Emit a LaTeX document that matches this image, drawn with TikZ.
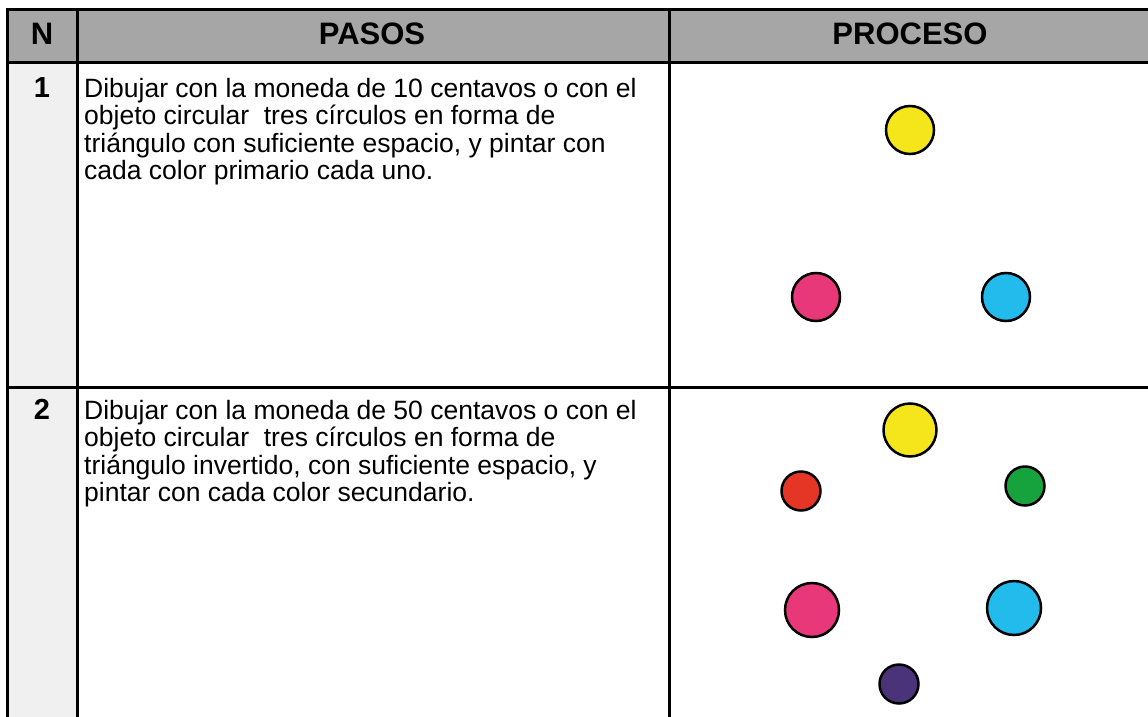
\documentclass[tikz,border=0pt]{standalone}
\usepackage{fontspec}
\setmainfont{Liberation Sans}
\usepackage{tikz}

\definecolor{headgray}{HTML}{A6A6A6}
\definecolor{numgray}{HTML}{F0F0F0}
\definecolor{cyel}{HTML}{F5E61C}
\definecolor{cpink}{HTML}{E8387A}
\definecolor{ccyan}{HTML}{22BBEC}
\definecolor{cred}{HTML}{E53524}
\definecolor{cgreen}{HTML}{16A23D}
\definecolor{cpurple}{HTML}{4B3379}

\tikzset{
  rule/.style={line width=3pt},
  head/.style={font=\fontsize{31}{34}\selectfont\bfseries, inner sep=0pt, anchor=base},
  num/.style={font=\fontsize{29}{32}\selectfont\bfseries, inner sep=0pt, anchor=base},
  pasostxt/.style={font=\fontsize{26.5}{27.5}\selectfont, inner sep=0pt, anchor=base west, align=left},
  dot/.style={circle, draw=black, line width=2.5pt, inner sep=0pt}
}

\begin{document}
\begin{tikzpicture}[x=1pt,y=-1pt]
\useasboundingbox (0,0) rectangle (1148,717);
% fondos
\fill[headgray] (7,10) rectangle (1150,63);
\fill[numgray] (7,63) rectangle (77,717);
% lineas de la tabla
\draw[rule] (7,10) -- (1150,10);
\draw[rule] (7,63) -- (1150,63);
\draw[rule] (7,387) -- (1150,387);
\draw[rule] (7,8.5) -- (7,717);
\draw[rule] (77,10) -- (77,717);
\draw[rule] (669,10) -- (669,717);
% encabezado
\node[head] (hn) at (42,45) {N};
\node[head] (hpasos) at (372,45) {PASOS};
\node[head] (hproceso) at (910,45) {PROCESO};
% fila 1 (base = ultima linea)
\node[num] (n1) at (42,97.5) {1};
\node[pasostxt] (p1) at (84,179.8) {Dibujar con la moneda de 10 centavos o con el\\
objeto circular\ \ tres círculos en forma de\\
triángulo con suficiente espacio, y pintar con\\
cada color primario cada uno.};
\node[dot, fill=cyel, minimum size=48pt] (a1) at (910,130) {};
\node[dot, fill=cpink, minimum size=48pt] (a2) at (816,297) {};
\node[dot, fill=ccyan, minimum size=48pt] (a3) at (1006,297) {};
% fila 2
\node[num] (n2) at (42,419.5) {2};
\node[pasostxt] (p2) at (84,501.8) {Dibujar con la moneda de 50 centavos o con el\\
objeto circular\ \ tres círculos en forma de\\
triángulo invertido, con suficiente espacio, y\\
pintar con cada color secundario.};
\node[dot, fill=cyel, minimum size=53pt] (b1) at (910,430) {};
\node[dot, fill=cred, minimum size=39pt] (b2) at (801,491) {};
\node[dot, fill=cgreen, minimum size=39pt] (b3) at (1025,486) {};
\node[dot, fill=cpink, minimum size=54pt] (b4) at (812,610) {};
\node[dot, fill=ccyan, minimum size=54pt] (b5) at (1014,608) {};
\node[dot, fill=cpurple, minimum size=39pt] (b6) at (899,684) {};
\end{tikzpicture}
\end{document}
